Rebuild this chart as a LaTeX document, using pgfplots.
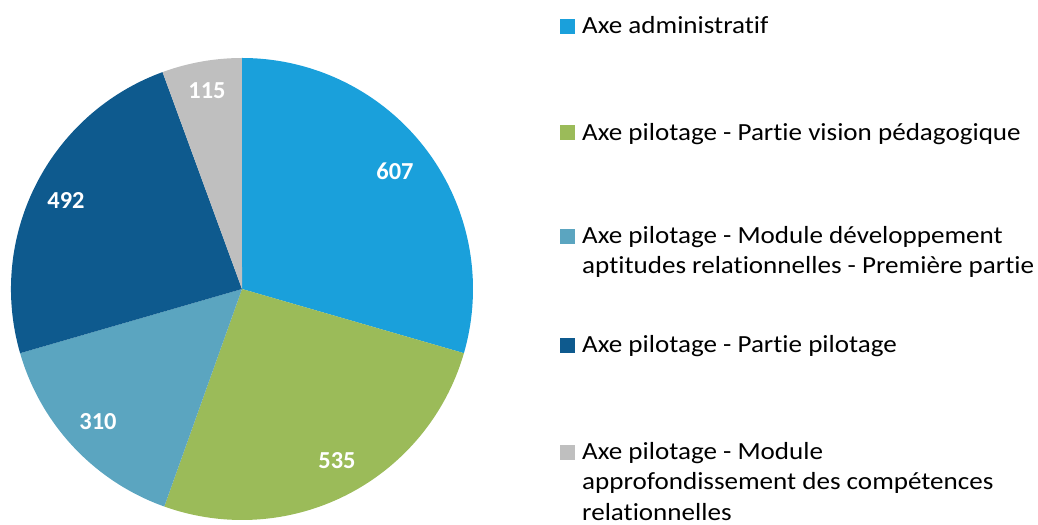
\documentclass[border=0pt]{standalone}
\usepackage{pgfplots}
\pgfplotsset{compat=1.18}
\usepackage{pgfplotstable}
\usepackage{fontspec}
\setmainfont{Carlito}[Ligatures=NoCommon, FakeStretch=1.1]
\newfontfamily\lblfont{Carlito}[Ligatures=NoCommon]
\definecolor{cA}{HTML}{1AA0DB}
\definecolor{cB}{HTML}{9BBB59}
\definecolor{cC}{HTML}{5BA5C0}
\definecolor{cD}{HTML}{0E5A8E}
\definecolor{cE}{HTML}{BFBFBF}
% values of the slices
\def\vA{607}\def\vB{535}\def\vC{310}\def\vD{492}\def\vE{115}
\pgfmathsetmacro{\tot}{\vA+\vB+\vC+\vD+\vE}
\pgfmathsetmacro{\dA}{-360*(\vA/\tot)}
\pgfmathsetmacro{\dB}{-360*(\vB/\tot)}
\pgfmathsetmacro{\dC}{-360*(\vC/\tot)}
\pgfmathsetmacro{\dD}{-360*(\vD/\tot)}
\pgfmathsetmacro{\dE}{-360*(\vE/\tot)}
\pgfmathsetmacro{\aA}{90}
\pgfmathsetmacro{\aB}{\aA+\dA}
\pgfmathsetmacro{\aC}{\aB+\dB}
\pgfmathsetmacro{\aD}{\aC+\dC}
\pgfmathsetmacro{\aE}{\aD+\dD}
\def\R{231bp}
\begin{document}
\begin{tikzpicture}
\begin{axis}[
  name=pie, at={(0,0)}, anchor=south west,
  scale only axis, width=1038bp, height=525bp,
  xmin=0, xmax=1038, ymin=0, ymax=525,
  hide axis, clip=false,
]
\fill[cA] (242,236) -- ++(\aA:\R) arc[start angle=\aA, delta angle=\dA, radius=\R] -- cycle;
\fill[cB] (242,236) -- ++(\aB:\R) arc[start angle=\aB, delta angle=\dB, radius=\R] -- cycle;
\fill[cC] (242,236) -- ++(\aC:\R) arc[start angle=\aC, delta angle=\dC, radius=\R] -- cycle;
\fill[cD] (242,236) -- ++(\aD:\R) arc[start angle=\aD, delta angle=\dD, radius=\R] -- cycle;
\fill[cE] (242,236) -- ++(\aE:\R) arc[start angle=\aE, delta angle=\dE, radius=\R] -- cycle;
% value labels
\begin{scope}[every node/.style={text=white, font=\lblfont\fontsize{24.5}{28}\selectfont\bfseries, inner sep=0pt}]
\node at (395,354) {\vA};
\node at (337,64) {\vB};
\node at (98,103) {\vC};
\node at (66,324) {\vD};
\node at (207,434) {\vE};
\end{scope}
% legend
\begin{scope}[every node/.style={anchor=base west, inner sep=0pt, text=black, font=\fontsize{24.7}{30}\selectfont}]
\fill[cA] (560,491) rectangle (575,506);
\node at (582,491) {Axe administratif};
\fill[cB] (560,384.5) rectangle (575,399.5);
\node at (582,384.5) {Axe pilotage - Partie vision pédagogique};
\fill[cC] (560,281) rectangle (575,296);
\node at (582,281) {Axe pilotage - Module développement};
\node at (582,251) {aptitudes relationnelles - Première partie};
\fill[cD] (560,172) rectangle (575,187);
\node at (582,172) {Axe pilotage - Partie pilotage};
\fill[cE] (560,65) rectangle (575,80);
\node at (582,65) {Axe pilotage - Module};
\node at (582,35) {approfondissement des compétences};
\node at (582,5) {relationnelles};
\end{scope}
\end{axis}
\pgfresetboundingbox
\path (pie.south west) rectangle (pie.north east);
\end{tikzpicture}
\end{document}
